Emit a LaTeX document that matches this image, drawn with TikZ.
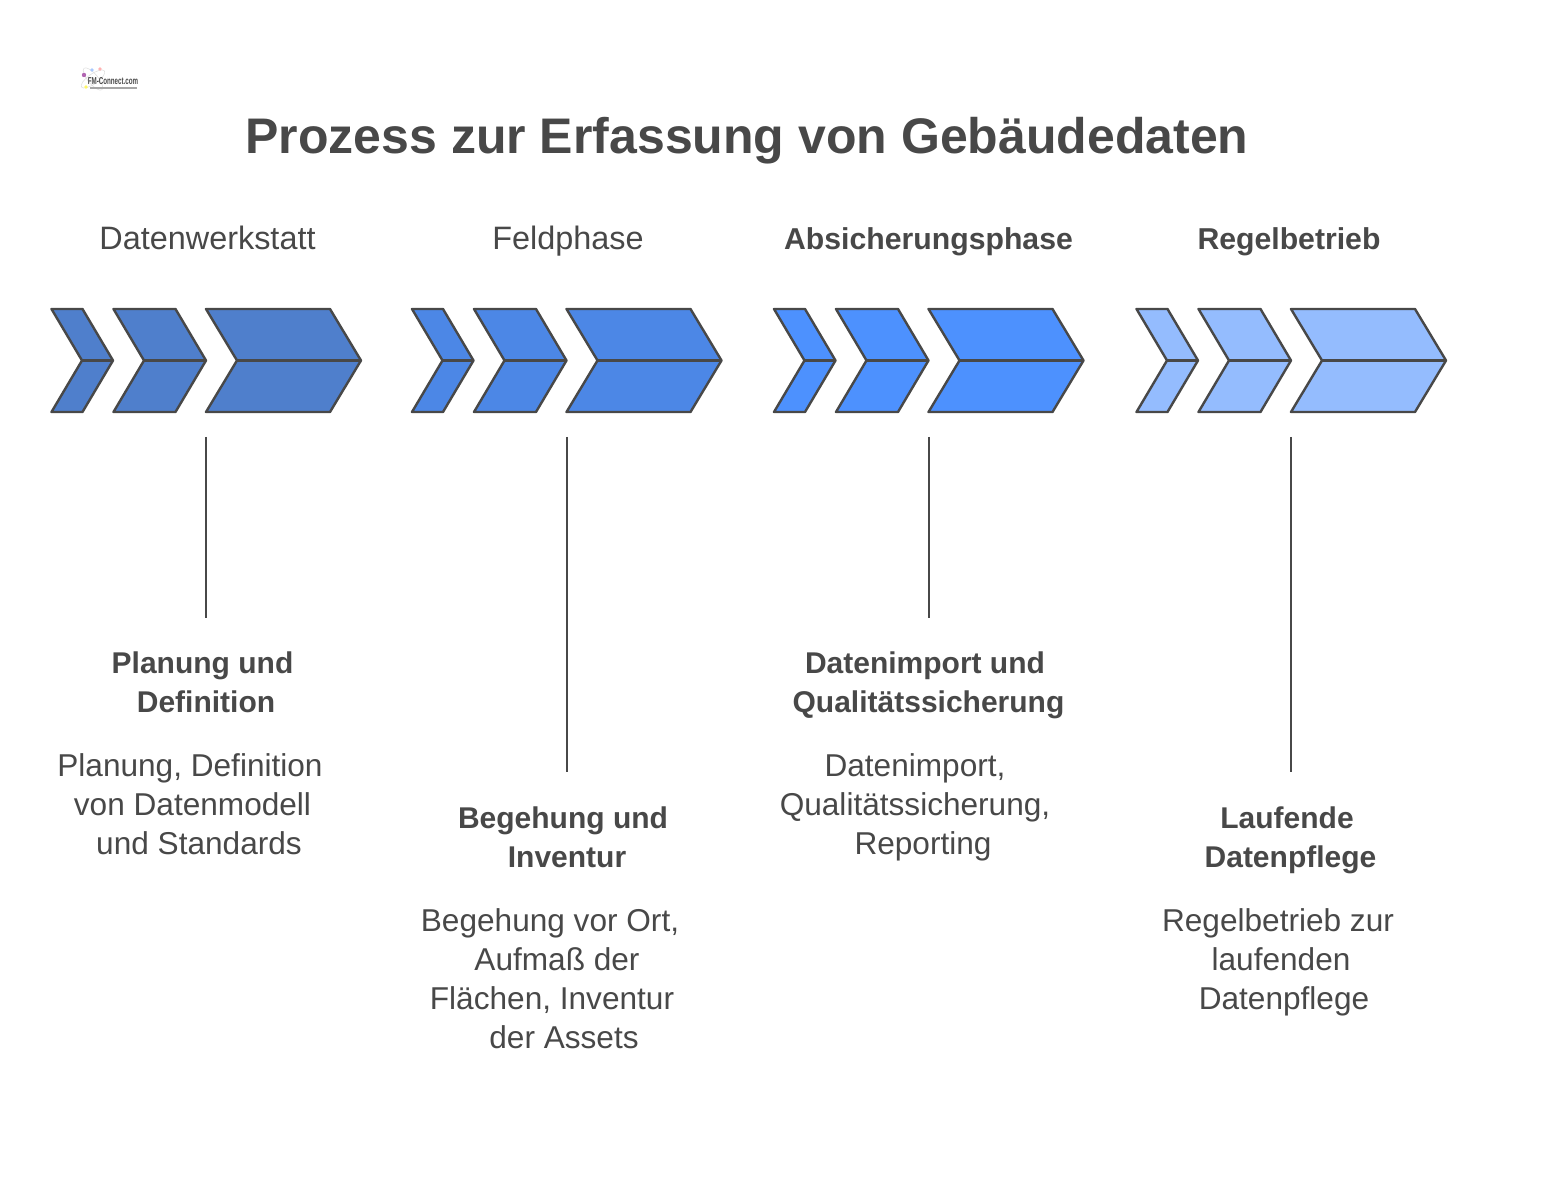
\documentclass[tikz,border=0pt]{standalone}
\usepackage{fontspec}
\setmainfont{Liberation Sans}
\definecolor{ink}{HTML}{484848}
\definecolor{cA}{HTML}{4F7FCC}
\definecolor{cB}{HTML}{4C87E6}
\definecolor{cC}{HTML}{4D91FE}
\definecolor{cD}{HTML}{94BCFE}
\tikzset{
  chev/.style={draw=ink,line width=1.2pt,line join=round},
  midline/.style={draw=ink,line width=1.2pt},
  stem/.style={draw=ink,line width=1pt},
  maintitle/.style={anchor=base,text=ink,font=\fontsize{25}{30}\selectfont\bfseries},
  phase/.style={anchor=base,text=ink,font=\fontsize{16.2}{19.5}\selectfont},
  phasebold/.style={phase,font=\fontsize{15.1}{19.5}\selectfont\bfseries},
  head/.style={anchor=base,align=center,text=ink,font=\fontsize{15}{19.5}\selectfont\bfseries},
  body/.style={anchor=base,align=center,text=ink,font=\fontsize{15.8}{19.5}\selectfont},
  orbit/.style={draw=black!12,line width=0.3pt},
}
\newcommand{\chevshape}[5]{% x-left, top-right, tip, notch, colour
  \draw[chev,fill=#5] (#1,309) -- (#2,309) -- (#3,360.5) -- (#2,412) -- (#1,412) -- (#4,360.5) -- cycle;
  \draw[midline] (#4,360.5) -- (#3,360.5);
}
\newcommand{\chevgroup}[2]{% dx, colour
  \chevshape{#1+51.5}{#1+82.5}{#1+113}{#1+82}{#2}
  \chevshape{#1+113.5}{#1+175.5}{#1+206}{#1+144}{#2}
  \chevshape{#1+206}{#1+330}{#1+361}{#1+237}{#2}
}
\begin{document}
\begin{tikzpicture}[x=0.5pt,y=-0.5pt]
\useasboundingbox (0,0) rectangle (1558,1197);
% logo
\draw[orbit,rotate around={35:(93,79)}] (93,79) ellipse [x radius=14,y radius=5];
\draw[orbit,rotate around={-50:(93,79)}] (93,79) ellipse [x radius=14,y radius=5];
\fill[cD!80] (92,70) circle (1.8);
\fill[red!30] (100,69) circle (1.8);
\fill[violet!60] (84,75) circle (2.2);
\fill[yellow!60] (86,87) circle (1.8);
\draw[black!35,line width=0.7pt] (90,88) -- (137,88);
\node[anchor=base,text=ink,inner sep=0pt,font=\fontsize{5}{5}\selectfont\bfseries] (logo) at (113,85) {\scalebox{0.62}[1]{FM-Connect.com}};
% title
\node[maintitle] (title) at (747,154) {Prozess zur Erfassung von Gebäudedaten};
% phases
\node[phase] (p1) at (207.5,250) {Datenwerkstatt};
\node[phase] (p2) at (568,250) {Feldphase};
\node[phasebold] (p3) at (928.5,250) {Absicherungsphase};
\node[phasebold] (p4) at (1289,250) {Regelbetrieb};
% chevrons
\chevgroup{0}{cA}
\chevgroup{360.5}{cB}
\chevgroup{722.5}{cC}
\chevgroup{1085}{cD}
% stems
\coordinate (s1a) at (206,437); \coordinate (s1b) at (206,618);
\coordinate (s2a) at (566.5,437); \coordinate (s2b) at (566.5,772);
\coordinate (s3a) at (928.5,437); \coordinate (s3b) at (928.5,618);
\coordinate (s4a) at (1290.5,437); \coordinate (s4b) at (1290.5,772);
\draw[stem] (s1a) -- (s1b);
\draw[stem] (s2a) -- (s2b);
\draw[stem] (s3a) -- (s3b);
\draw[stem] (s4a) -- (s4b);
% headings (line offsets follow the reference)
\node[head] (h1) at (202.5,712) {Planung und\\\hspace*{3.5pt}Definition};
\node[head] (h2) at (563,867) {Begehung und\\\hspace*{4pt}Inventur};
\node[head] (h3) at (925,712) {Datenimport und\\\hspace*{3.5pt}Qualitätssicherung};
\node[head] (h4) at (1287,867) {Laufende\\\hspace*{3.5pt}Datenpflege};
% bodies
\node[body] (b1) at (190,854.5) {Planung, Definition\\\hspace*{2.5pt}von Datenmodell\\\hspace*{9pt}und Standards};
\node[body] (b2) at (550,1048) {Begehung vor Ort,\\\hspace*{7pt}Aufmaß der\\\hspace*{2pt}Flächen, Inventur\\\hspace*{14pt}der Assets};
\node[body] (b3) at (915,854.5) {Datenimport,\\Qualitätssicherung,\\\hspace*{8pt}Reporting};
\node[body] (b4) at (1278,1009) {Regelbetrieb zur\\\hspace*{3pt}laufenden\\\hspace*{6pt}Datenpflege};
\end{tikzpicture}
\end{document}
